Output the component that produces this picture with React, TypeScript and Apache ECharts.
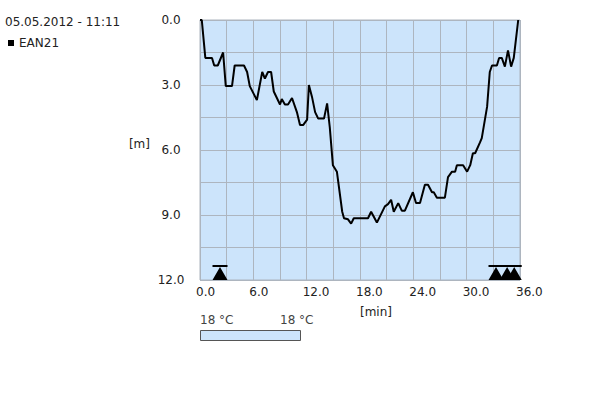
import React, { useEffect, useRef } from "react";
import * as echarts from "echarts";

const titleText = "05.05.2012 - 11:11";
const seriesName = "EAN21";
const timeMin = [
  0, 0.2, 0.6, 1.35, 1.6, 2.0, 2.6, 2.9, 3.6, 3.9, 4.95, 5.3, 5.6, 6.4, 7.0, 7.3, 7.65, 8.0, 8.3, 9.0,
  9.2, 9.55, 9.9, 10.35, 10.9, 11.25, 11.6, 12.05, 12.25, 12.6, 12.95, 13.3, 13.95, 14.3, 14.6, 14.95,
  15.4, 16.0, 16.2, 16.65, 17.0, 17.3, 18.9, 19.25, 19.9, 20.8, 21.15, 21.5, 21.8, 22.3, 22.7, 23.05,
  23.95, 24.3, 24.75, 25.3, 25.65, 26.1, 26.3, 26.65, 27.55, 27.9, 28.35, 28.7, 28.9, 29.6, 30.05,
  30.4, 30.7, 30.95, 31.5, 31.7, 32.3, 32.6, 32.85, 33.4, 33.65, 33.95, 34.3, 34.65, 35.0, 35.3, 35.8,
];
const depthM = [
  0, 0, 1.75, 1.75, 2.1, 2.1, 1.5, 3.05, 3.05, 2.1, 2.1, 2.4, 3.05, 3.7, 2.4, 2.7, 2.4, 2.4, 3.3, 3.9,
  3.65, 3.9, 3.9, 3.6, 4.25, 4.85, 4.85, 4.6, 3.0, 3.55, 4.25, 4.55, 4.55, 3.85, 4.95, 6.7,
  7.0, 8.85, 9.15, 9.2, 9.4, 9.15, 9.15, 8.85, 9.35, 8.6, 8.5, 8.3, 8.85, 8.45, 8.8, 8.8,
  7.95, 8.45, 8.45, 7.6, 7.6, 7.95, 7.95, 8.2, 8.2, 7.25, 7.0, 7.0, 6.7, 6.7, 7.0,
  6.7, 6.15, 6.15, 5.65, 5.45, 4.0, 2.4, 2.1, 2.1, 1.75, 1.75, 2.15, 1.4, 2.15, 1.75, 0,
];
const markerTimes = [2.25, 33.3, 34.55, 35.35];
const markerDepth = 12;
const tempMinLabel = "18 °C";
const tempMaxLabel = "18 °C";

const FONT = "DejaVu Sans";
const TXT = "#222";
const BG = "#cce4fb";
const GRID = "#adb5bf";

export default function App() {
  const ref = useRef<HTMLDivElement>(null);
  useEffect(() => {
    if (!ref.current) return;
    const chart = echarts.init(ref.current, null, { renderer: "svg" });
    const lineData = timeMin.map((t, i) => [t, depthM[i]]);
    const markData = markerTimes.map((t) => [t, markerDepth]);
    chart.setOption({
      animation: false,
      title: {
        text: titleText,
        left: 5,
        top: 16,
        padding: 0,
        textStyle: { fontFamily: FONT, fontSize: 12, fontWeight: "normal", color: TXT },
      },
      legend: {
        data: [seriesName],
        left: 8,
        top: 37,
        padding: 0,
        icon: "rect",
        itemWidth: 6,
        itemHeight: 6,
        itemGap: 4,
        textStyle: { fontFamily: FONT, fontSize: 12, color: TXT },
      },
      grid: {
        left: 200,
        top: 20,
        width: 320,
        height: 260,
        show: true,
        backgroundColor: BG,
        borderColor: GRID,
        borderWidth: 1,
      },
      xAxis: {
        type: "value",
        min: 0,
        max: 36,
        interval: 6,
        name: "[min]",
        nameLocation: "middle",
        nameGap: 26,
        nameTextStyle: { fontFamily: FONT, fontSize: 12, color: TXT, padding: [0, 0, 0, 32] },
        axisLine: { show: false },
        axisTick: { show: false },
        axisLabel: {
          fontFamily: FONT,
          fontSize: 12,
          color: TXT,
          margin: 6,
          align: "left",
          padding: [0, 0, 0, -4],
          showMinLabel: true,
          showMaxLabel: true,
          formatter: (v: number) => v.toFixed(1),
        },
        splitLine: { show: true, lineStyle: { color: GRID, width: 1 } },
        minorTick: { show: false, splitNumber: 2 },
        minorSplitLine: { show: true, lineStyle: { color: GRID, width: 1 } },
      },
      yAxis: {
        type: "value",
        inverse: true,
        min: 0,
        max: 12,
        interval: 3,
        name: "[m]",
        nameLocation: "middle",
        nameGap: 50,
        nameRotate: 0,
        nameTextStyle: { fontFamily: FONT, fontSize: 12, color: TXT, verticalAlign: "bottom" },
        axisLine: { show: false },
        axisTick: { show: false },
        axisLabel: {
          fontFamily: FONT,
          fontSize: 12,
          color: TXT,
          margin: 29,
          align: "center",
          showMinLabel: true,
          showMaxLabel: true,
          formatter: (v: number) => v.toFixed(1),
        },
        splitLine: { show: true, lineStyle: { color: GRID, width: 1 } },
        minorTick: { show: false, splitNumber: 2 },
        minorSplitLine: { show: true, lineStyle: { color: GRID, width: 1 } },
      },
      series: [
        {
          name: seriesName,
          type: "line",
          data: lineData,
          symbol: "none",
          color: "#000",
          lineStyle: { color: "#000", width: 2 },
        },
        {
          name: "markers",
          type: "scatter",
          data: markData,
          symbol: "path://M0,0 L15,0 L15,2 L0,2 Z M7.5,2 L15,15 L0,15 Z",
          symbolSize: [15, 15],
          symbolOffset: [0, -7.5],
          symbolKeepAspect: true,
          itemStyle: { color: "#000", opacity: 1 },
          clip: false,
          silent: true,
        },
      ],
      graphic: [
        {
          type: "text",
          left: 200,
          top: 314,
          style: { text: tempMinLabel, font: `12px "${FONT}"`, fill: "#444" },
        },
        {
          type: "text",
          left: 280,
          top: 314,
          style: { text: tempMaxLabel, font: `12px "${FONT}"`, fill: "#444" },
        },
        {
          type: "rect",
          shape: { x: 200.5, y: 330.5, width: 100, height: 10 },
          style: { fill: BG, stroke: "#555", lineWidth: 1 },
        },
      ],
    });
    return () => chart.dispose();
  }, []);
  return (
    <div
      ref={ref}
      style={{ position: "fixed", left: 0, top: 0, width: 600, height: 400, background: "#fff" }}
    />
  );
}
